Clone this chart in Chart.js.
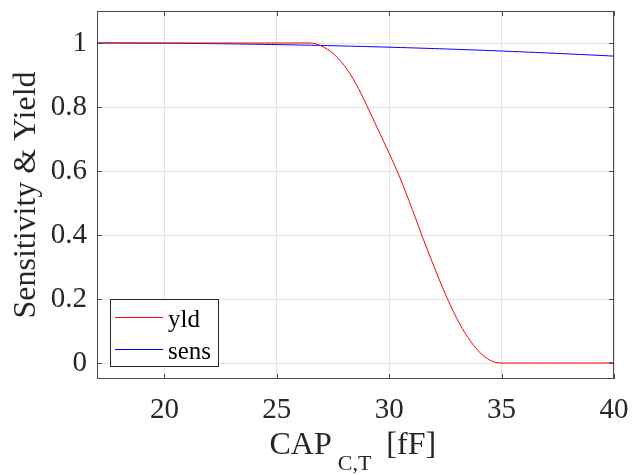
<!DOCTYPE html>
<html>
<head>
<meta charset="utf-8">
<script src="https://cdn.jsdelivr.net/npm/chart.js@4"></script>
<style>
  html, body { margin: 0; padding: 0; background: #fff; }
  #wrap { width: 632px; height: 475px; }
</style>
</head>
<body>
<div id="wrap"><canvas id="chart" width="632" height="475"></canvas></div>
<script>
// CAP_C,T values (fF) and the two curves
const capYld = [17, 17.5, 18, 18.5, 19, 19.5, 20, 20.5, 21, 21.5, 22, 22.5, 23, 23.5, 24, 24.5,
  25, 25.5, 26, 26.5, 27, 27.5, 28, 28.5, 29, 29.5, 30, 30.5, 31, 31.5, 32, 32.5,
  33, 33.5, 34, 34.5, 35, 35.5, 36, 36.5, 37, 37.5, 38, 38.5, 39, 39.5, 40]
const yld = [1, 1, 1, 1, 1, 1, 1, 1, 1, 1, 1, 1, 1, 1, 1, 1,
  1, 1, 1, 1, 0.99, 0.967, 0.93, 0.875, 0.805, 0.73, 0.655, 0.575, 0.485, 0.39, 0.30, 0.215,
  0.14, 0.08, 0.035, 0.008, 0, 0, 0, 0, 0, 0, 0, 0, 0, 0, 0.001]
const capSens = [17, 18, 19, 20, 21, 22, 23, 24, 25, 26, 27, 28, 29, 30, 31, 32, 33, 34, 35, 36, 37, 38, 39, 40]
const sens = [1, 1, 0.9997, 0.9993, 0.9988, 0.9981, 0.9972, 0.9962, 0.995, 0.9937, 0.9923, 0.9906,
  0.9888, 0.9869, 0.9848, 0.9826, 0.9802, 0.9776, 0.9749, 0.972, 0.969, 0.9658, 0.9625, 0.959]
const xTicks = [20, 25, 30, 35, 40]
const yTicks = [0, 0.2, 0.4, 0.6, 0.8, 1]
const seriesColors = ['#ff0000', '#0000ff']

const txt = '#262626'
const serif = '"Liberation Serif", "Times New Roman", serif'
Chart.defaults.font.family = serif
Chart.defaults.color = txt

const toPoints = (xs, ys) => xs.map((x, i) => ({ x: x, y: ys[i] }))

// MATLAB-ish axes box, inward tick marks, legend and the subscripted x label
const matlabAxes = {
  id: 'matlabAxes',
  afterDraw(chart) {
    const { ctx, chartArea: a, scales: { x, y } } = chart
    ctx.save()
    ctx.lineWidth = 1
    ctx.strokeStyle = '#4a4a4a'
    ctx.strokeRect(a.left + 0.5, a.top + 0.5, a.right - a.left - 1, a.bottom - a.top - 1)

    ctx.beginPath()
    xTicks.forEach(v => {
      const px = Math.round(x.getPixelForValue(v)) + 0.5
      ctx.moveTo(px, a.bottom); ctx.lineTo(px, a.bottom - 5)
      ctx.moveTo(px, a.top); ctx.lineTo(px, a.top + 5)
    })
    yTicks.forEach(v => {
      const py = Math.round(y.getPixelForValue(v)) + 0.5
      ctx.moveTo(a.left, py); ctx.lineTo(a.left + 5, py)
      ctx.moveTo(a.right, py); ctx.lineTo(a.right - 5, py)
    })
    ctx.stroke()

    // legend box
    const lx = a.left + 13, ly = a.top + 288, lw = 108, lh = 67
    ctx.fillStyle = '#fff'
    ctx.fillRect(lx, ly, lw, lh)
    ctx.strokeStyle = '#262626'
    ctx.strokeRect(lx + 0.5, ly + 0.5, lw, lh)
    ctx.font = '25px ' + serif
    ctx.textBaseline = 'middle'
    chart.data.datasets.forEach((ds, i) => {
      const cy = ly + 18 + i * 32
      ctx.strokeStyle = seriesColors[i]
      ctx.beginPath()
      ctx.moveTo(lx + 5, cy + 0.5)
      ctx.lineTo(lx + 53, cy + 0.5)
      ctx.stroke()
      ctx.fillStyle = '#000'
      ctx.fillText(ds.label, lx + 58, cy + 3)
    })

    // x label: CAP with subscript C,T then [fF]
    ctx.fillStyle = txt
    ctx.textBaseline = 'alphabetic'
    let sx = (a.left + a.right) / 2 - 86
    ctx.font = '32px ' + serif
    ctx.fillText('CAP', sx, 454)
    sx += ctx.measureText('CAP').width + 6
    ctx.font = '22px ' + serif
    ctx.fillText('C,T', sx, 470)
    sx += ctx.measureText('C,T').width + 15
    ctx.font = '32px ' + serif
    ctx.fillText('[fF]', sx, 454)
    ctx.restore()
  }
}

new Chart(document.getElementById('chart'), {
  type: 'line',
  data: {
    datasets: [
      {
        label: 'yld',
        data: toPoints(capYld, yld),
        borderColor: seriesColors[0],
        borderWidth: 1,
        pointRadius: 0,
        cubicInterpolationMode: 'monotone'
      },
      {
        label: 'sens',
        data: toPoints(capSens, sens),
        borderColor: seriesColors[1],
        borderWidth: 1,
        pointRadius: 0,
        tension: 0.3
      }
    ]
  },
  options: {
    responsive: false,
    animation: false,
    layout: { padding: { left: 0, right: 18, top: 11, bottom: 0 } },
    plugins: {
      legend: { display: false },
      tooltip: { enabled: false }
    },
    scales: {
      x: {
        type: 'linear',
        min: 17,
        max: 40,
        afterBuildTicks: s => { s.ticks = xTicks.map(v => ({ value: v })) },
        afterFit: s => { s.height = 96; s.paddingLeft = 0; s.paddingRight = 0 },
        grid: { color: '#e3e3e3', drawTicks: false },
        border: { display: false },
        ticks: {
          padding: 14,
          color: txt,
          font: { family: serif, size: 29 },
          callback: v => String(v)
        }
      },
      y: {
        min: -0.05,
        max: 1.1,
        afterBuildTicks: s => { s.ticks = yTicks.map(v => ({ value: v })) },
        afterFit: s => { s.width = 97; s.paddingTop = 0; s.paddingBottom = 0 },
        grid: { color: '#e3e3e3', drawTicks: false },
        border: { display: false },
        title: {
          display: true,
          text: 'Sensitivity & Yield',
          color: txt,
          font: { family: serif, size: 32, lineHeight: 1 },
          padding: { top: 11, bottom: 0 }
        },
        ticks: {
          padding: 10,
          color: txt,
          font: { family: serif, size: 29 },
          callback: v => String(+v.toFixed(1))
        }
      }
    }
  },
  plugins: [matlabAxes]
})
</script>
</body>
</html>
